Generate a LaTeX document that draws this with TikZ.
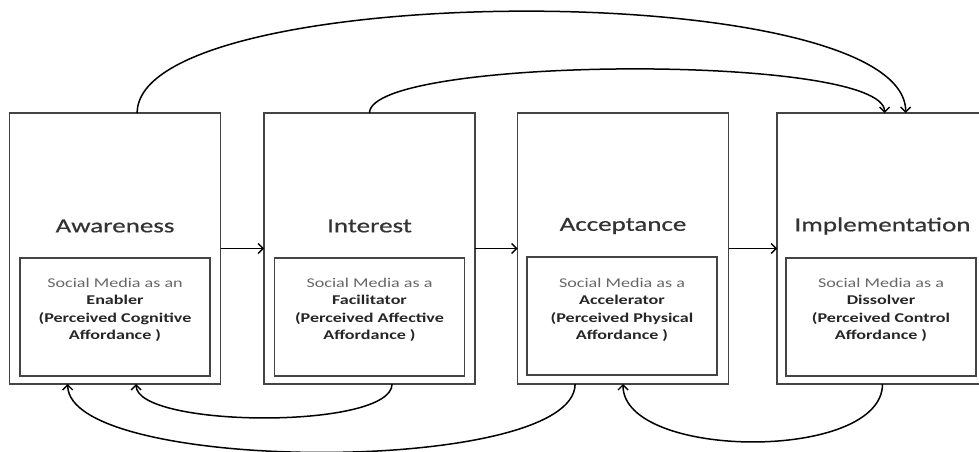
\documentclass[tikz,border=0pt]{standalone}
\usepackage{fontspec}
\newfontfamily\diagfont{Carlito}[FakeStretch=1.35]
\newfontfamily\titlefont{Carlito}[FakeStretch=1.35,FakeBold=0.6]
\usetikzlibrary{arrows.meta,calc}
\definecolor{frame}{HTML}{444444}
\definecolor{titlegray}{HTML}{333333}
\definecolor{leadgray}{HTML}{666666}
\definecolor{boldgray}{HTML}{262626}
\tikzset{
  stage/.style={draw=frame, line width=1.5pt, inner sep=0pt, outer sep=0pt,
    minimum width=211pt, minimum height=271pt},
  rolebox/.style={draw=frame, line width=1.5pt, inner sep=0pt, outer sep=0pt,
    minimum width=190pt, minimum height=118pt},
  stagetitle/.style={font=\titlefont\fontsize{20}{24}\selectfont, text=titlegray, inner sep=0pt},
  roletext/.style={font=\diagfont\fontsize{13.4}{17.3}\selectfont, align=center, inner sep=0pt, text=boldgray},
  flow/.style={draw=black, line width=1.5pt, -{Straight Barb[length=5pt,width=10pt,line width=1.4pt]}},
}
\newcommand{\role}[3]{{\color{leadgray}Social Media as #1}\\\textbf{#2}\\\textbf{(Perceived #3}\\\textbf{Affordance )}}
\begin{document}
\begin{tikzpicture}[x=1pt,y=-1pt]
\useasboundingbox (0,0) rectangle (979,452);
\clip (0,0) rectangle (979,452);

% stage frames
\node[stage] (aw) at (115,248.5) {};
\node[stage] (in) at (369.5,248.5) {};
\node[stage] (ac) at (623,248.5) {};
\node[stage] (im) at (882.5,248.5) {};

% inner role boxes
\node[rolebox] (awr) at (115,317) {};
\node[rolebox] (inr) at (369.5,317) {};
\node[rolebox] (acr) at (622,316) {};
\node[rolebox] (imr) at (881,317) {};

% stage titles
\node[stagetitle] (awt) at (115,226) {Awareness};
\node[stagetitle] (int) at (369.5,226) {Interest};
\node[stagetitle] (act) at (623,226) {Acceptance};
\node[stagetitle] (imt) at (882.5,226) {Implementation};

% role descriptions
\node[roletext] (awd) at (115,310) {\role{an}{Enabler}{Cognitive}};
\node[roletext] (ind) at (369.5,310) {\role{a}{Facilitator}{Affective}};
\node[roletext] (acd) at (622,310) {\role{a}{Accelerator}{Physical}};
\node[roletext] (imd) at (881,310) {\role{a}{Dissolver}{Control}};

% forward flow between neighbouring stages
\draw[flow] (aw.east) -- (in.west);
\draw[flow] (in.east) -- (ac.west);
\draw[flow] (ac.east) -- (im.west);

% feed-forward arcs above the stages
\draw[flow] ($(aw.north west)!0.605!(aw.north east)$)
  .. controls +(0,-134) and +(0,-137) .. ($(im.north west)!0.61!(im.north east)$);
\draw[flow] (in.north)
  .. controls +(0,-57) and +(0,-60) .. ($(im.north west)!0.51!(im.north east)$);

% feedback arcs below the stages
\draw[flow] ($(in.south west)!0.607!(in.south east)$)
  .. controls +(0,46) and +(0,44) .. ($(aw.south west)!0.6!(aw.south east)$);
\draw[flow] ($(ac.south west)!0.273!(ac.south east)$)
  .. controls +(0,92) and +(0,90) .. ($(aw.south west)!0.276!(aw.south east)$);
\draw[flow] (im.south)
  .. controls +(0,78) and +(0,76) .. (ac.south);
\end{tikzpicture}
\end{document}
